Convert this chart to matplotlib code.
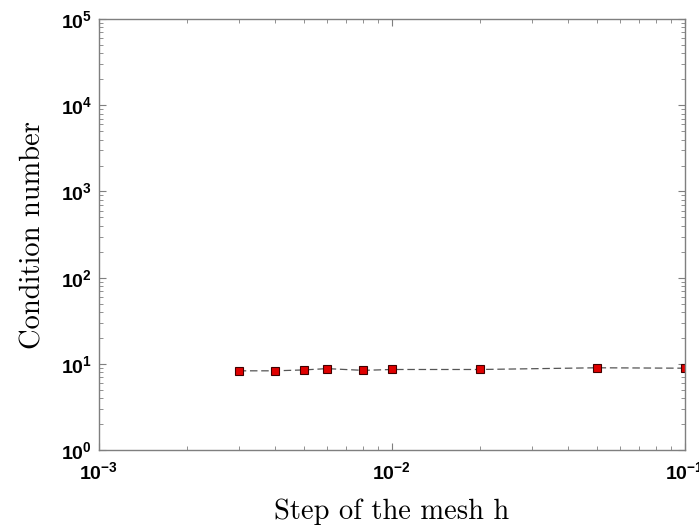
import matplotlib.pyplot as plt
from matplotlib.ticker import LogLocator, NullFormatter

# mesh step vs condition number
h = [0.003, 0.004, 0.005, 0.006, 0.008, 0.01, 0.02, 0.05, 0.1]
cond = [8.3, 8.3, 8.5, 8.8, 8.4, 8.6, 8.6, 9.0, 8.9]

plt.rcParams['mathtext.default'] = 'regular'
plt.rcParams['axes.formatter.use_mathtext'] = True

fig = plt.figure(figsize=(6.99, 5.31), dpi=100)
ax = fig.add_axes([0.1416, 0.1525, 0.838, 0.8115])

ax.plot(h, cond, linestyle=(0, (6, 3)), color='#555555', linewidth=0.9,
        marker='s', markersize=6, markerfacecolor='#e00000',
        markeredgecolor='#400000', markeredgewidth=0.8)

ax.set_xscale('log')
ax.set_yscale('log')
ax.set_xlim(1e-3, 1e-1)
ax.set_ylim(1e0, 1e5)

ax.xaxis.set_major_locator(LogLocator(base=10, numticks=10))
ax.yaxis.set_major_locator(LogLocator(base=10, numticks=10))
ax.xaxis.set_minor_locator(LogLocator(base=10, subs=range(2, 10), numticks=20))
ax.yaxis.set_minor_locator(LogLocator(base=10, subs=range(2, 10), numticks=20))
ax.xaxis.set_minor_formatter(NullFormatter())
ax.yaxis.set_minor_formatter(NullFormatter())

gray = '#7f7f7f'
for s in ax.spines.values():
    s.set_color(gray)
    s.set_linewidth(1.0)
ax.tick_params(which='both', direction='in', colors=gray, top=True, right=True)
ax.tick_params(which='major', length=5, width=0.8)
ax.tick_params(axis='x', which='major', pad=8)
ax.tick_params(axis='y', which='major', pad=5)
ax.tick_params(which='minor', length=3, width=0.6)
ax.tick_params(axis='both', labelcolor='black', labelsize=14)
for lbl in ax.get_xticklabels() + ax.get_yticklabels():
    lbl.set_fontfamily('Liberation Sans')
    lbl.set_fontweight('bold')

ax.set_xlabel('Step of the mesh h', fontfamily='cmr10', fontsize=20.5, labelpad=11)
ax.set_ylabel('Condition number', fontfamily='cmr10', fontsize=20.5, labelpad=10)

fig.savefig('out.png', dpi=100)
